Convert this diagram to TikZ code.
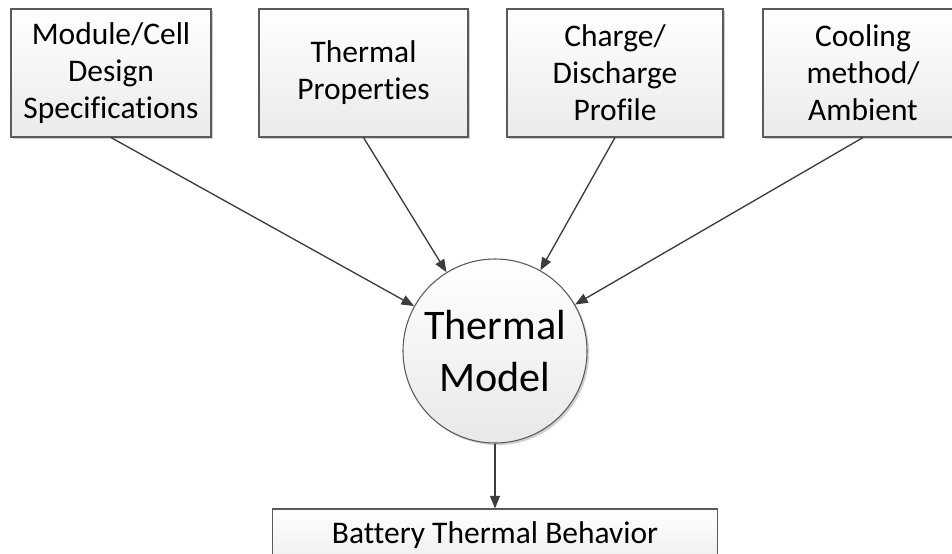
\documentclass[tikz,border=0pt]{standalone}
\usepackage{fontspec}
\setmainfont{Carlito}[Ligatures={NoCommon}]
\usetikzlibrary{arrows.meta,shadows}

\definecolor{edgegray}{HTML}{5A5A5A}
\definecolor{arrowgray}{HTML}{3C3C3C}

\tikzset{
  inbox/.style={
    draw=edgegray, line width=0.8pt,
    top color=white, bottom color=black!8,
    drop shadow={shadow xshift=1.8pt, shadow yshift=-1.8pt, opacity=0.18, fill=black},
    align=center, inner sep=0pt,
    minimum height=96pt,
    font=\fontsize{23.6}{27.8}\selectfont
  },
  modelnode/.style={
    circle, draw=edgegray, line width=0.8pt,
    top color=white, bottom color=black!9,
    drop shadow={shadow xshift=1.6pt, shadow yshift=-1.6pt, opacity=0.18, fill=black},
    minimum size=138pt, inner sep=0pt, align=center,
    font=\fontsize{31.6}{38.8}\selectfont
  },
  outbox/.style={
    draw=edgegray, line width=0.8pt,
    top color=white, bottom color=black!8,
    inner sep=0pt, text height=25.5pt, text depth=22.5pt,
    minimum width=333.75pt,
    font=\fontsize{23.6}{28}\selectfont
  },
  feed/.style={
    draw=arrowgray, line width=1pt,
    -{Triangle[length=9.5pt,width=7.5pt]}
  }
}

\begin{document}
\begin{tikzpicture}[x=0.75pt, y=-0.75pt]
  % page frame: 952 x 553 units, everything outside is cut away
  \path[use as bounding box, clip] (0,0) rectangle (952,553);
  \fill[white] (0,0) rectangle (952,553);

  % input boxes
  \node[inbox, minimum width=150pt]    (spec)  at (111,73)   {Module/Cell\\Design\\Specifications};
  \node[inbox, minimum width=156.75pt] (props) at (363.5,73) {Thermal\\Properties};
  \node[inbox, minimum width=162pt]    (prof)  at (615,73)   {Charge/\\Discharge\\Profile};
  \node[inbox, minimum width=150pt]    (cool)  at (863,73)   {Cooling\\method/\\Ambient};

  % central model
  \node[modelnode] (model) at (495,351) {Thermal\\Model};

  % result box
  \node[outbox, anchor=base] (result) at (495,543) {Battery Thermal Behavior};

  % connectors
  \draw[feed] (spec.south)  -- (model);
  \draw[feed] (props.south) -- (model);
  \draw[feed] (prof.south)  -- (model);
  \draw[feed] (cool.south)  -- (model);
  \draw[feed] (model.south) -- (result.north);
\end{tikzpicture}
\end{document}
